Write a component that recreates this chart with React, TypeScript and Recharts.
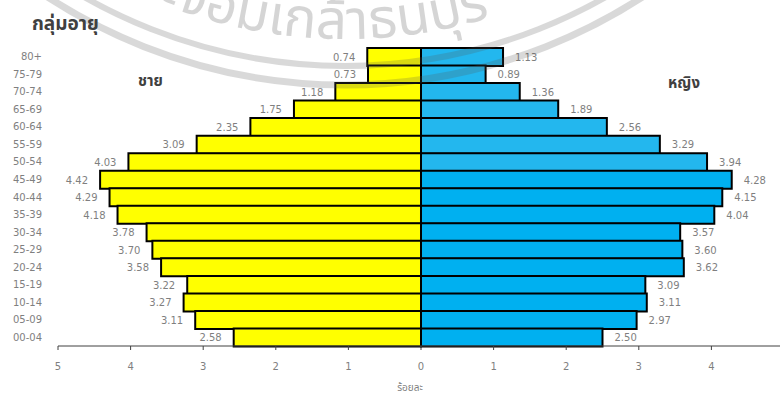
import { BarChart, Bar, XAxis, YAxis, Cell, LabelList } from "recharts";

const ageGroups = [
  "80+", "75-79", "70-74", "65-69", "60-64", "55-59", "50-54", "45-49", "40-44",
  "35-39", "30-34", "25-29", "20-24", "15-19", "10-14", "05-09", "00-04",
];
const maleShare = [0.74, 0.73, 1.18, 1.75, 2.35, 3.09, 4.03, 4.42, 4.29, 4.18, 3.78, 3.70, 3.58, 3.22, 3.27, 3.11, 2.58];
const femaleShare = [1.13, 0.89, 1.36, 1.89, 2.56, 3.29, 3.94, 4.28, 4.15, 4.04, 3.57, 3.60, 3.62, 3.09, 3.11, 2.97, 2.50];
const xTicks = [-5, -4, -3, -2, -1, 0, 1, 2, 3, 4];

const data = ageGroups.map((group, i) => ({
  group,
  male: -maleShare[i],
  female: femaleShare[i],
}));

const FONT = "'DejaVu Sans', sans-serif";
const THAI = "'Noto Sans Thai', Tahoma, 'Noto Sans', 'DejaVu Sans', sans-serif";

// value label sitting 12px past the outer end of a bar
const endLabel = (side: "left" | "right") => (props: any) => {
  const { x, y, width, height, value } = props;
  const x0 = Number(x), w = Number(width);
  const edge = side === "left" ? Math.min(x0, x0 + w) - 12 : Math.max(x0, x0 + w) + 12;
  return (
    <text
      x={edge}
      y={Number(y) + Number(height) / 2}
      dy="0.38em"
      textAnchor={side === "left" ? "end" : "start"}
      fill="#7f7f7f"
      fontSize={10}
      fontFamily={FONT}
    >
      {Math.abs(Number(value)).toFixed(2)}
    </text>
  );
};

// faint logo watermark drawn over the chart
const Watermark = () => {
  const cx = 345, cy = -461;
  const arc = (r: number) => `M ${cx - r} ${cy} A ${r} ${r} 0 0 0 ${cx + r} ${cy}`;
  return (
    <svg width={780} height={396} style={{ position: "absolute", left: 0, top: 0, pointerEvents: "none" }}>
      <defs>
        <path id="wm-text" d={arc(500)} />
      </defs>
      <g opacity={0.22}>
        <path d={arc(546)} fill="none" stroke="#555" strokeWidth={7} />
        <path d={arc(527)} fill="none" stroke="#555" strokeWidth={6} />
        <text fontFamily={THAI} fontSize={55} fill="#444">
          <textPath href="#wm-text" startOffset={528}>พระจอมเกล้าธนบุรี</textPath>
        </text>
      </g>
      <text x={32} y={30} fontFamily={THAI} fontSize={19} fontWeight="bold" fill="#404040">กลุ่มอายุ</text>
      <text x={138} y={86} fontFamily={THAI} fontSize={15} fontWeight="bold" fill="#404040">ชาย</text>
      <text x={668} y={88} fontFamily={THAI} fontSize={15} fontWeight="bold" fill="#404040">หญิง</text>
      <text x={410} y={391} textAnchor="middle" fontFamily={THAI} fontSize={10} fill="#7f7f7f">ร้อยละ</text>
    </svg>
  );
};

export default function App() {
  return (
    <div style={{ position: "absolute", left: 0, top: 0, width: 780, height: 396, overflow: "hidden", background: "#fff" }}>
      <BarChart
        width={800}
        height={396}
        data={data}
        layout="vertical"
        stackOffset="sign"
        barCategoryGap={0}
        margin={{ top: 48, right: 16, bottom: 20, left: 0 }}
      >
        <XAxis
          type="number"
          domain={[-5, 5]}
          ticks={xTicks}
          tickFormatter={(v: number) => String(Math.abs(v))}
          axisLine={{ stroke: "#404040" }}
          tickLine={{ stroke: "#404040" }}
          tickSize={4}
          tickMargin={13}
          height={30}
          tick={{ fill: "#7f7f7f", fontSize: 10, fontFamily: FONT }}
        />
        <YAxis
          type="category"
          dataKey="group"
          width={58}
          axisLine={false}
          tickLine={false}
          tickSize={0}
          tickMargin={16}
          interval={0}
          tick={{ fill: "#7f7f7f", fontSize: 10, fontFamily: FONT }}
        />
        <Bar dataKey="male" stackId="p" fill="#FFFF00" stroke="#000" strokeWidth={2} isAnimationActive={false}>
          <LabelList dataKey="male" content={endLabel("left")} />
        </Bar>
        <Bar dataKey="female" stackId="p" fill="#00B0F0" stroke="#000" strokeWidth={2} isAnimationActive={false}>
          {data.map((d, i) => (
            <Cell key={d.group} fill={i < 7 ? "#23B7EE" : "#00B0F0"} />
          ))}
          <LabelList dataKey="female" content={endLabel("right")} />
        </Bar>
      </BarChart>
      <Watermark />
    </div>
  );
}
